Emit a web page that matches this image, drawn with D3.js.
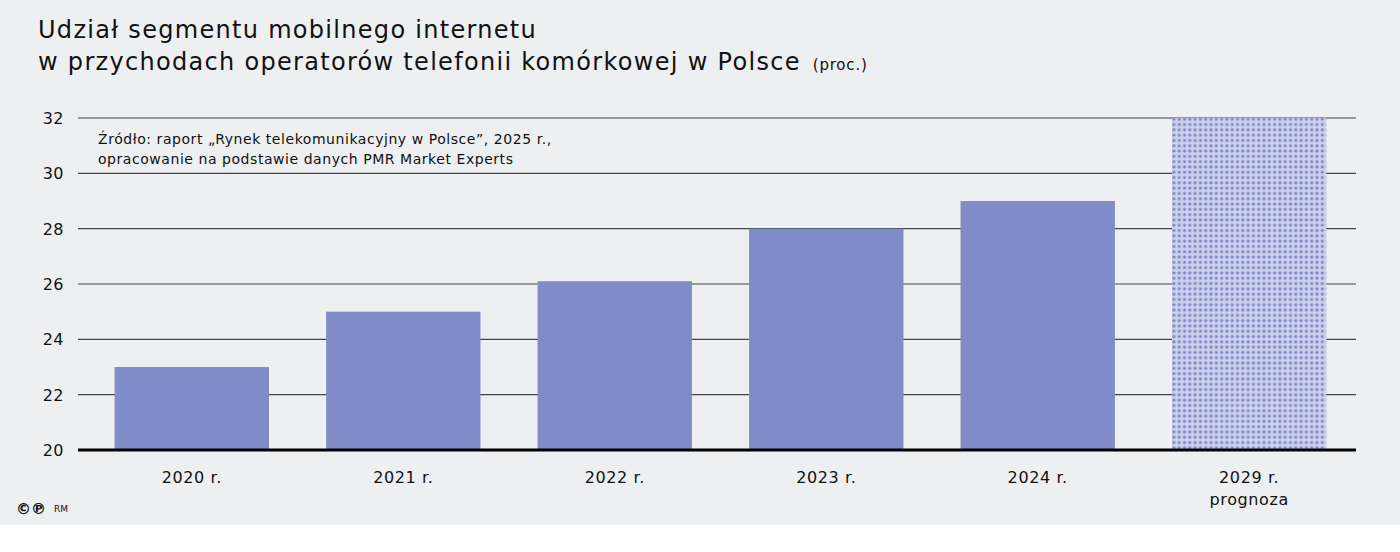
<!DOCTYPE html>
<html><head><meta charset="utf-8">
<script src="https://cdn.jsdelivr.net/npm/d3@7"></script>
<style>body{margin:0;background:#fff}text{font-family:"DejaVu Sans",sans-serif;fill:#111}</style>
</head><body>
<script>
var categories = ["2020 r.", "2021 r.", "2022 r.", "2023 r.", "2024 r.", "2029 r."];
var values = [23, 25, 26.1, 28, 29, 32];
var forecast = [false, false, false, false, false, true];
var yTicks = [20, 22, 24, 26, 28, 30, 32];

var svg = d3.select("body").append("svg").attr("width", 1400).attr("height", 552);
svg.append("rect").attr("width", 1400).attr("height", 525).attr("fill", "#eeeff0");

var pat = svg.append("defs").append("pattern").attr("id", "dots")
  .attr("patternUnits", "userSpaceOnUse").attr("width", 5.3).attr("height", 5.3);
pat.append("rect").attr("width", 5.3).attr("height", 5.3).attr("fill", "#cdd0ec");
pat.append("circle").attr("cx", 2.6).attr("cy", 2.6).attr("r", 1.6).attr("fill", "#7b86c6");

var x = d3.scaleBand().domain(categories).range([85, 1356]).paddingInner(0.27).paddingOuter(0.14);
var y = d3.scaleLinear().domain([20, 32]).range([450, 118]);

svg.append("g").selectAll("line").data(yTicks.slice(1)).join("line")
  .attr("x1", 78).attr("x2", 1356).attr("y1", d => y(d)).attr("y2", d => y(d))
  .attr("stroke", "#444").attr("stroke-width", 1.2);

svg.append("g").selectAll("text").data(yTicks).join("text")
  .attr("x", 64).attr("y", d => y(d) + 6).attr("text-anchor", "end")
  .attr("font-size", 16).attr("letter-spacing", 0.5).text(d => d);

svg.append("g").selectAll("rect").data(values).join("rect")
  .attr("x", (d, i) => x(categories[i])).attr("width", x.bandwidth())
  .attr("y", d => y(d)).attr("height", d => y(20) - y(d))
  .attr("fill", (d, i) => forecast[i] ? "url(#dots)" : "#7f8cc8");

svg.append("line").attr("x1", 78).attr("x2", 1356).attr("y1", 450).attr("y2", 450)
  .attr("stroke", "#000").attr("stroke-width", 3);

svg.append("g").selectAll("text").data(categories).join("text")
  .attr("x", d => x(d) + x.bandwidth() / 2).attr("y", 483).attr("text-anchor", "middle")
  .attr("font-size", 16).attr("letter-spacing", 0.6).text(d => d);
svg.append("text").attr("x", x("2029 r.") + x.bandwidth() / 2).attr("y", 505)
  .attr("text-anchor", "middle").attr("font-size", 16).attr("letter-spacing", 0.6).text("prognoza");

svg.append("text").attr("x", 38).attr("y", 38).attr("font-size", 24).attr("letter-spacing", 1.3)
  .text("Udział segmentu mobilnego internetu");
var t2 = svg.append("text").attr("x", 38).attr("y", 70).attr("font-size", 24).attr("letter-spacing", 1.3);
t2.append("tspan").text("w przychodach operatorów telefonii komórkowej w Polsce");
t2.append("tspan").attr("dx", 12).attr("font-size", 15).attr("letter-spacing", 0.8).text("(proc.)");

svg.append("text").attr("x", 98).attr("y", 144).attr("font-size", 14).attr("letter-spacing", 0.55)
  .text("Źródło: raport „Rynek telekomunikacyjny w Polsce”, 2025 r.,");
svg.append("text").attr("x", 98).attr("y", 164).attr("font-size", 14).attr("letter-spacing", 0.55)
  .text("opracowanie na podstawie danych PMR Market Experts");

svg.append("text").attr("x", 16).attr("y", 514).attr("font-size", 15).attr("font-weight", "bold").text("©℗");
svg.append("text").attr("x", 54).attr("y", 512).attr("font-size", 9).text("RM");
</script>
</body></html>
